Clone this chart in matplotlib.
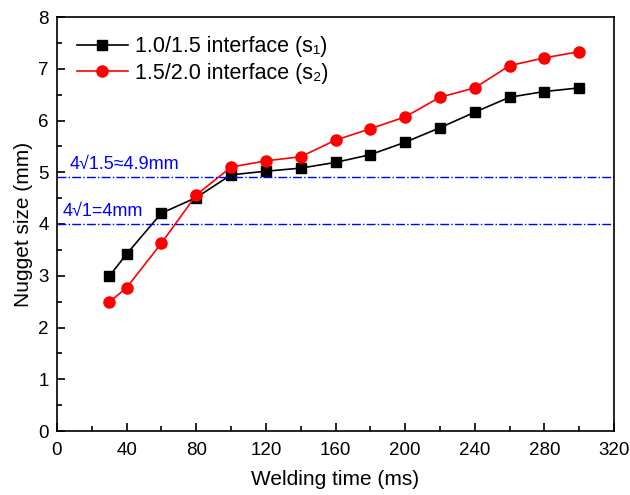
import matplotlib
matplotlib.use('Agg')
import matplotlib.pyplot as plt
from matplotlib.ticker import MultipleLocator

plt.rcParams['font.family'] = ['Liberation Sans', 'DejaVu Sans']

# Nugget size vs welding time for both interfaces
time_ms = [30, 40, 60, 80, 100, 120, 140, 160, 180, 200, 220, 240, 260, 280, 300]
s1_size = [2.99, 3.42, 4.21, 4.51, 4.95, 5.02, 5.08, 5.19, 5.34, 5.58, 5.86, 6.16, 6.45, 6.56, 6.63]
s2_size = [2.49, 2.77, 3.63, 4.56, 5.10, 5.22, 5.30, 5.62, 5.84, 6.07, 6.45, 6.63, 7.06, 7.21, 7.33]

# Reference nugget sizes
ref_values = [4.9, 4.0]
ref_labels = ['4\u221a1.5\u22484.9mm', '4\u221a1=4mm']
ref_label_x = [7.5, 3]

fig = plt.figure(figsize=(6.3, 4.95), dpi=100)
ax = fig.add_axes([57 / 630, 64 / 495, 557 / 630, 414 / 495])

ax.plot(time_ms, s1_size, color='black', marker='s', markersize=7.5, linewidth=1.2,
        label='1.0/1.5 interface (s\u2081)')
ax.plot(time_ms, s2_size, color='red', marker='o', markersize=8, linewidth=1.2,
        label='1.5/2.0 interface (s\u2082)')

for val, txt, tx in zip(ref_values, ref_labels, ref_label_x):
    ax.axhline(val, color='blue', linestyle='-.', linewidth=1.0)
    ax.text(tx, val + 0.08, txt, color='blue', fontsize=13, va='bottom', ha='left')

ax.set_xlim(0, 320)
ax.set_ylim(0, 8)
ax.xaxis.set_major_locator(MultipleLocator(40))
ax.xaxis.set_minor_locator(MultipleLocator(20))
ax.yaxis.set_major_locator(MultipleLocator(1))
ax.yaxis.set_minor_locator(MultipleLocator(0.5))
ax.tick_params(which='both', direction='in', labelsize=13.5, width=1.2)
ax.tick_params(which='major', length=6)
ax.tick_params(which='minor', length=3.5)
ax.tick_params(axis='x', pad=8)
ax.tick_params(axis='y', pad=6)
for sp in ax.spines.values():
    sp.set_linewidth(1.2)

ax.set_xlabel('Welding time (ms)', fontsize=15, labelpad=8)
ax.set_ylabel('Nugget size (mm)', fontsize=15, labelpad=4)

ax.legend(loc='upper left', frameon=False, fontsize=15.5, handlelength=2.4,
          handletextpad=0.3, labelspacing=0.25, borderaxespad=0.3,
          bbox_to_anchor=(0.008, 0.99))

fig.savefig('out.png', dpi=100)
